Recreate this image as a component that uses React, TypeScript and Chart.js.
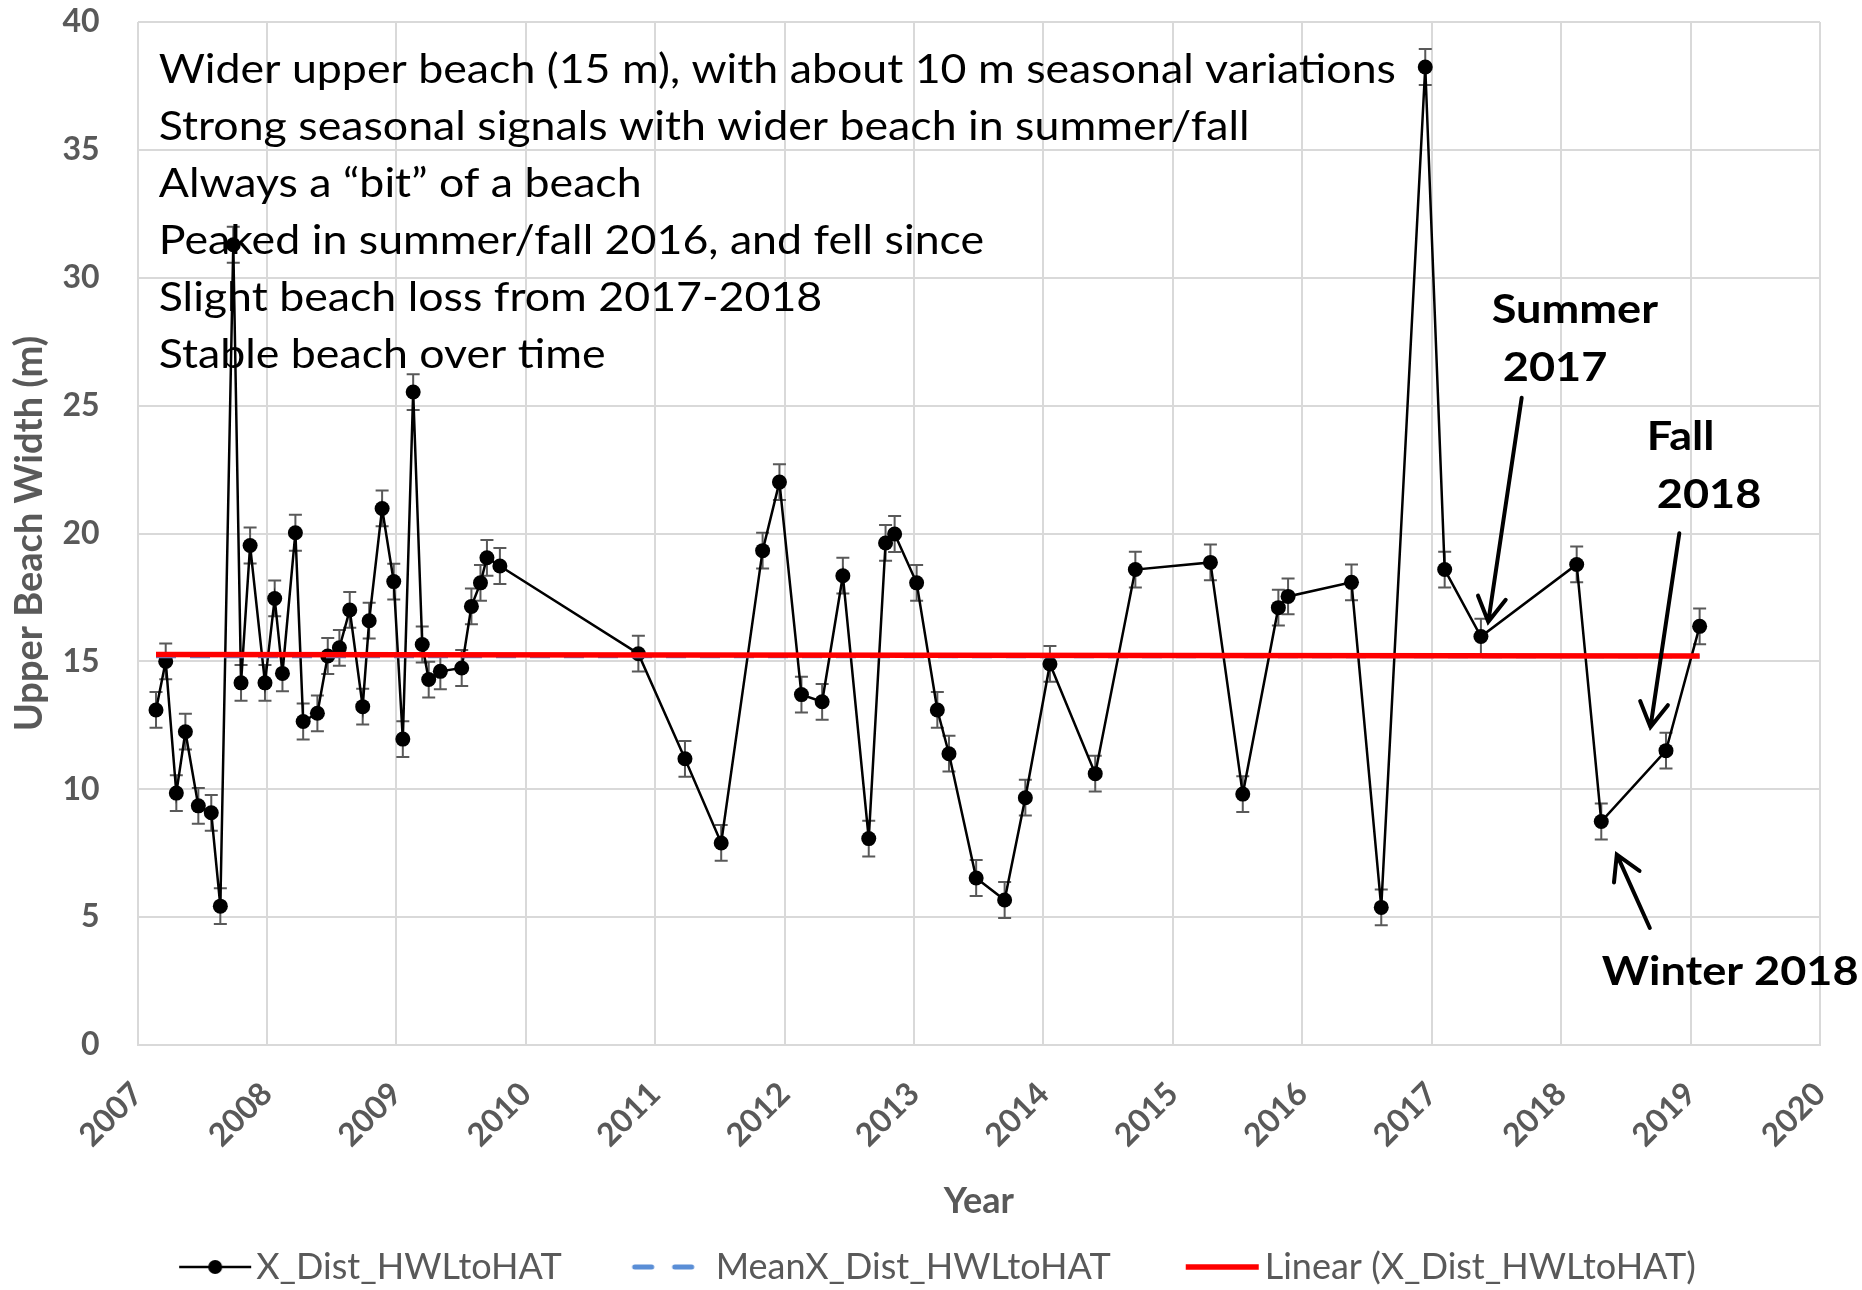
import { useEffect, useRef } from "react";
import { Chart, registerables } from "chart.js";

Chart.register(...registerables);

// ---------------- data ----------------
const SURVEY_YEARS = [
  2007.143, 2007.218, 2007.3, 2007.37, 2007.47, 2007.57, 2007.64, 2007.74, 2007.8, 2007.87,
  2007.985, 2008.06, 2008.12, 2008.22, 2008.28, 2008.39, 2008.47, 2008.56, 2008.64, 2008.74,
  2008.79, 2008.89, 2008.98, 2009.05, 2009.13, 2009.2, 2009.25, 2009.34, 2009.505, 2009.58,
  2009.65, 2009.7, 2009.8, 2010.87, 2011.23, 2011.51, 2011.83, 2011.96, 2012.13, 2012.29,
  2012.45, 2012.65, 2012.78, 2012.85, 2013.02, 2013.18, 2013.27, 2013.48, 2013.7, 2013.86,
  2014.05, 2014.4, 2014.71, 2015.29, 2015.54, 2015.815, 2015.89, 2016.38, 2016.61, 2016.95,
  2017.1, 2017.38, 2018.12, 2018.31, 2018.81, 2019.07,
];
const UPPER_BEACH_WIDTH = [
  13.1, 15.0, 9.85, 12.25, 9.35, 9.08, 5.43, 31.29, 14.16, 19.53,
  14.16, 17.46, 14.53, 20.03, 12.65, 12.97, 15.21, 15.53, 17.01, 13.23,
  16.59, 20.98, 18.12, 11.96, 25.53, 15.66, 14.29, 14.61, 14.74, 17.15,
  18.07, 19.05, 18.73, 15.3, 11.19, 7.9, 19.33, 22.01, 13.7, 13.42,
  18.35, 8.07, 19.63, 19.98, 18.07, 13.1, 11.39, 6.53, 5.67, 9.67,
  14.9, 10.61, 18.59, 18.87, 9.81, 17.1, 17.54, 18.09, 5.38, 38.24,
  18.59, 15.97, 18.79, 8.74, 11.51, 16.37,
];
const ERROR_MARGIN = 0.7;
const MEAN_X = [2007.143, 2019.07];
const MEAN_Y = [15.2, 15.2];
const TREND_X = [2007.143, 2019.07];
const TREND_Y = [15.27, 15.21];
const YEAR_TICKS = [2007, 2008, 2009, 2010, 2011, 2012, 2013, 2014, 2015, 2016, 2017, 2018, 2019, 2020];
const WIDTH_TICKS = [0, 5, 10, 15, 20, 25, 30, 35, 40];
const SERIES_NAMES = ["X_Dist_HWLtoHAT", "MeanX_Dist_HWLtoHAT", "Linear (X_Dist_HWLtoHAT)"];

const NOTE_LINES = [
  "Wider upper beach (15 m), with about 10 m seasonal variations",
  "Strong seasonal signals with wider beach in summer/fall",
  "Always a \u201cbit\u201d of a beach",
  "Peaked in summer/fall 2016, and fell since",
  "Slight beach loss from 2017-2018",
  "Stable beach over time",
];
const NOTE_ANCHOR = { x: 2007.164, y: 37.6 };

const CALLOUT_LABELS = [
  { text: "Summer", x: 2017.464, y: 28.23 },
  { text: "2017", x: 2017.549, y: 25.96 },
  { text: "Fall", x: 2018.661, y: 23.27 },
  { text: "2018", x: 2018.739, y: 21.0 },
  { text: "Winter 2018", x: 2018.314, y: 2.35 },
];
const CALLOUT_ARROWS = [
  { fromX: 2017.695, fromY: 25.31, toX: 2017.437, toY: 16.55 },
  { fromX: 2018.913, fromY: 20.01, toX: 2018.69, toY: 12.43 },
  { fromX: 2018.685, fromY: 4.575, toX: 2018.43, toY: 7.445 },
];

// ---------------- layout ----------------
const CANVAS_W = 1862;
const CANVAS_H = 1290;
const PLOT_LEFT = 137.5;
const PLOT_RIGHT = 1820;
const PLOT_TOP = 22;
const PLOT_BOTTOM = 1045;
const BOTTOM_PAD = -5;
const RIGHT_PAD = 32;
const FONT = "Lato, 'Liberation Sans', sans-serif";
const GRID = "#d9d9d9";
const AXIS_TEXT = "#595959";
const LEGEND_FONT = 36;
const LEGEND_PAD = 32;
const LEGEND_BOX = 104;
const SYMBOL_W = 140;

function makeSymbol(kind: number): HTMLCanvasElement {
  const c = document.createElement("canvas");
  c.width = SYMBOL_W;
  c.height = 20;
  const g = c.getContext("2d")!;
  g.lineCap = "butt";
  if (kind === 0) {
    g.strokeStyle = "#000";
    g.lineWidth = 2.5;
    g.beginPath();
    g.moveTo(63, 10);
    g.lineTo(135, 10);
    g.stroke();
    g.fillStyle = "#000";
    g.beginPath();
    g.arc(99, 10, 7, 0, Math.PI * 2);
    g.fill();
  } else if (kind === 1) {
    g.strokeStyle = "#5a8ed6";
    g.lineWidth = 5;
    g.lineCap = "round";
    g.beginPath();
    g.moveTo(59, 10);
    g.lineTo(76, 10);
    g.moveTo(99, 10);
    g.lineTo(116, 10);
    g.stroke();
  } else {
    g.strokeStyle = "#ff0000";
    g.lineWidth = 5.5;
    g.beginPath();
    g.moveTo(61, 10);
    g.lineTo(134, 10);
    g.stroke();
  }
  return c;
}

const errorBarPlugin = {
  id: "errorBars",
  beforeDatasetDraw(chart: any, args: any) {
    if (args.index !== 0) return;
    const { ctx, scales } = chart;
    const xs = scales.x;
    const ys = scales.y;
    ctx.save();
    ctx.strokeStyle = "#595959";
    ctx.lineWidth = 2;
    const cap = 6.5;
    for (let i = 0; i < SURVEY_YEARS.length; i++) {
      const px = xs.getPixelForValue(SURVEY_YEARS[i]);
      const top = ys.getPixelForValue(UPPER_BEACH_WIDTH[i] + ERROR_MARGIN);
      const bot = ys.getPixelForValue(UPPER_BEACH_WIDTH[i] - ERROR_MARGIN);
      ctx.beginPath();
      ctx.moveTo(px, top);
      ctx.lineTo(px, bot);
      ctx.moveTo(px - cap, top);
      ctx.lineTo(px + cap, top);
      ctx.moveTo(px - cap, bot);
      ctx.lineTo(px + cap, bot);
      ctx.stroke();
    }
    ctx.restore();
  },
};

function stretchedText(ctx: CanvasRenderingContext2D, text: string, x: number, y: number, sx: number) {
  ctx.save();
  ctx.translate(x, y);
  ctx.scale(sx, 1);
  ctx.fillText(text, 0, 0);
  ctx.restore();
}

const annotationPlugin = {
  id: "annotations",
  afterDatasetsDraw(chart: any) {
    const { ctx, scales } = chart;
    const xs = scales.x;
    const ys = scales.y;
    ctx.save();
    ctx.fillStyle = "#000";
    ctx.textAlign = "left";
    ctx.textBaseline = "alphabetic";
    ctx.font = `41px ${FONT}`;
    const nx = xs.getPixelForValue(NOTE_ANCHOR.x);
    const ny = ys.getPixelForValue(NOTE_ANCHOR.y);
    NOTE_LINES.forEach((line, i) => stretchedText(ctx, line, nx, ny + i * 57, 1.09));
    ctx.font = `bold 41px ${FONT}`;
    CALLOUT_LABELS.forEach((l) =>
      stretchedText(ctx, l.text, xs.getPixelForValue(l.x), ys.getPixelForValue(l.y), 1.1)
    );
    ctx.strokeStyle = "#000";
    ctx.lineWidth = 4;
    ctx.lineCap = "round";
    CALLOUT_ARROWS.forEach((a) => {
      const x0 = xs.getPixelForValue(a.fromX);
      const y0 = ys.getPixelForValue(a.fromY);
      const x1 = xs.getPixelForValue(a.toX);
      const y1 = ys.getPixelForValue(a.toY);
      const ang = Math.atan2(y0 - y1, x0 - x1);
      const head = 28;
      const spread = Math.PI / 6;
      ctx.beginPath();
      ctx.moveTo(x0, y0);
      ctx.lineTo(x1, y1);
      ctx.moveTo(x1 + head * Math.cos(ang - spread), y1 + head * Math.sin(ang - spread));
      ctx.lineTo(x1, y1);
      ctx.lineTo(x1 + head * Math.cos(ang + spread), y1 + head * Math.sin(ang + spread));
      ctx.stroke();
    });
    ctx.restore();
  },
};

export default function App() {
  const canvasRef = useRef<HTMLCanvasElement | null>(null);

  useEffect(() => {
    const canvas = canvasRef.current;
    if (!canvas) return;
    const symbols = [makeSymbol(0), makeSymbol(1), makeSymbol(2)];

    const chart = new Chart(canvas, {
      type: "line",
      data: {
        datasets: [
          {
            label: SERIES_NAMES[0],
            data: SURVEY_YEARS.map((x, i) => ({ x, y: UPPER_BEACH_WIDTH[i] })),
            borderColor: "#000000",
            backgroundColor: "#000000",
            borderWidth: 2.5,
            pointRadius: 7.5,
            pointBorderWidth: 0,
            pointBackgroundColor: "#000000",
            tension: 0,
            order: 3,
          },
          {
            label: SERIES_NAMES[1],
            data: MEAN_X.map((x, i) => ({ x, y: MEAN_Y[i] })),
            borderColor: "#5a8ed6",
            borderWidth: 4,
            borderDash: [20, 14],
            pointRadius: 0,
            order: 2,
          },
          {
            label: SERIES_NAMES[2],
            data: TREND_X.map((x, i) => ({ x, y: TREND_Y[i] })),
            borderColor: "#ff0000",
            borderWidth: 5.5,
            pointRadius: 0,
            order: 1,
          },
        ],
      },
      options: {
        responsive: false,
        animation: false,
        devicePixelRatio: 1,
        layout: { padding: { left: 0, right: RIGHT_PAD, top: PLOT_TOP, bottom: BOTTOM_PAD } },
        plugins: {
          tooltip: { enabled: false },
          legend: {
            display: true,
            position: "bottom",
            labels: {
              usePointStyle: true,
              pointStyleWidth: LEGEND_BOX,
              padding: LEGEND_PAD,
              color: AXIS_TEXT,
              font: { family: FONT, size: LEGEND_FONT },
              generateLabels: () =>
                SERIES_NAMES.map((name, i) => ({
                  text: name,
                  pointStyle: symbols[i] as any,
                  fillStyle: "transparent",
                  strokeStyle: "transparent",
                  lineWidth: 0,
                  hidden: false,
                  datasetIndex: i,
                  fontColor: AXIS_TEXT,
                })),
            },
          },
        },
        scales: {
          x: {
            type: "linear",
            min: YEAR_TICKS[0],
            max: YEAR_TICKS[YEAR_TICKS.length - 1],
            afterBuildTicks: (scale: any) => {
              scale.ticks = YEAR_TICKS.map((v) => ({ value: v }));
            },
            afterFit: (scale: any) => {
              const legendH = scale.chart.legend ? scale.chart.legend.height : 0;
              scale.height = CANVAS_H - BOTTOM_PAD - legendH - PLOT_BOTTOM;
            },
            grid: { color: GRID, lineWidth: 2, drawTicks: true, tickLength: 28, tickColor: "rgba(0,0,0,0)" },
            border: { display: true, color: GRID, width: 2 },
            ticks: {
              autoSkip: false,
              minRotation: 45,
              maxRotation: 45,
              padding: 2,
              color: AXIS_TEXT,
              font: { family: FONT, size: 32, weight: "bold" },
              callback: (v: any) => String(v),
            },
            title: {
              display: true,
              text: "Year",
              color: AXIS_TEXT,
              font: { family: FONT, size: 36, weight: "bold", lineHeight: 1 },
              padding: { top: 0, bottom: -2 },
            },
          },
          y: {
            type: "linear",
            position: "left",
            min: WIDTH_TICKS[0],
            max: WIDTH_TICKS[WIDTH_TICKS.length - 1],
            afterBuildTicks: (scale: any) => {
              scale.ticks = WIDTH_TICKS.map((v) => ({ value: v }));
            },
            afterFit: (scale: any) => {
              scale.width = PLOT_LEFT;
            },
            grid: { color: GRID, lineWidth: 2, drawTicks: true, tickLength: 36, tickColor: "rgba(0,0,0,0)" },
            border: { display: false },
            ticks: {
              padding: 2,
              color: AXIS_TEXT,
              font: { family: FONT, size: 32, weight: "bold" },
            },
            title: {
              display: true,
              text: "Upper Beach Width (m)",
              color: AXIS_TEXT,
              font: { family: FONT, size: 38, weight: "bold", lineHeight: 1 },
              padding: { top: 11, bottom: 0 },
            },
          },
          yRight: {
            type: "linear",
            position: "right",
            display: true,
            min: WIDTH_TICKS[0],
            max: WIDTH_TICKS[WIDTH_TICKS.length - 1],
            grid: { display: false, drawTicks: false },
            border: { display: false },
            ticks: { display: false },
            afterFit: (scale: any) => {
              scale.width = CANVAS_W - PLOT_RIGHT - RIGHT_PAD;
            },
          },
        },
      } as any,
      plugins: [errorBarPlugin, annotationPlugin],
    });

    return () => chart.destroy();
  }, []);

  return (
    <div style={{ position: "absolute", left: 0, top: 0, width: CANVAS_W, height: CANVAS_H, background: "#fff" }}>
      <canvas ref={canvasRef} width={CANVAS_W} height={CANVAS_H} />
    </div>
  );
}
